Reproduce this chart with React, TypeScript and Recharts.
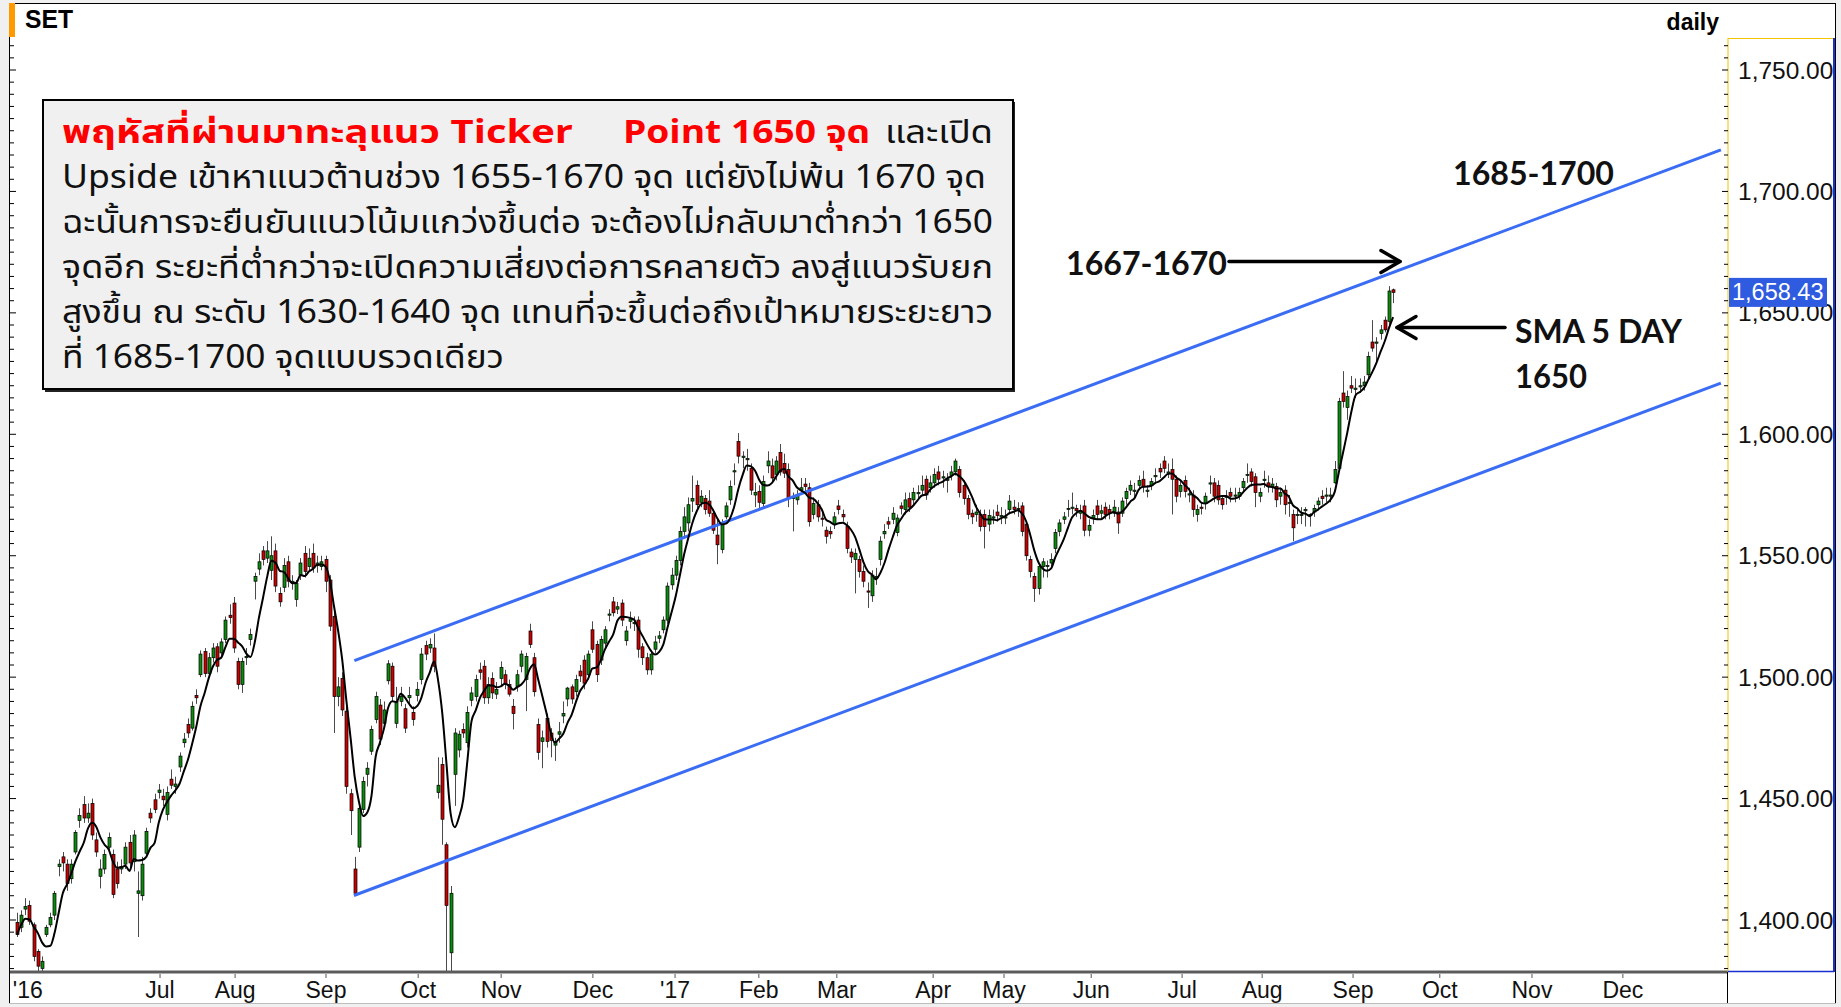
import React from "react";
import { Bar, ComposedChart, Line, ReferenceLine, XAxis, YAxis } from "recharts";

type Ohlc = [number, number, number, number]; // open, high, low, close

// SET index, daily candles (May 2016 - 15 Sep 2017)
const mayJun2016: Ohlc[] = [
  [1399, 1403, 1393, 1394], [1397, 1404, 1395, 1402], [1404.5, 1409, 1402, 1405.5], [1406, 1408, 1398, 1399.5],
  [1398, 1399, 1383, 1385], [1387, 1388, 1378, 1381], [1380, 1385, 1379, 1383], [1394, 1398, 1393, 1397],
  [1398, 1403, 1397, 1401], [1402, 1412, 1400, 1411], [1422, 1425, 1418, 1423], [1426, 1428, 1420, 1423.5],
  [1423, 1425, 1412, 1415], [1417, 1425, 1415, 1423], [1428, 1437, 1427, 1436], [1441, 1446, 1438, 1443],
  [1447.5, 1451, 1440, 1442], [1442, 1448, 1440, 1444], [1448, 1450, 1433, 1435], [1433, 1436, 1426, 1428],
  [1418, 1425, 1413, 1421], [1421, 1429, 1419, 1427], [1430, 1436, 1428, 1434], [1427, 1429, 1409, 1410.5],
  [1421, 1424, 1413, 1415], [1421, 1425, 1419, 1422], [1423, 1432, 1421, 1430], [1432, 1435, 1421, 1423.5],
  [1424, 1437, 1420, 1435], [1411, 1420, 1393, 1412], [1410, 1426, 1408, 1423], [1427.5, 1438, 1426, 1436.5],
  [1444, 1446, 1440, 1442], [1449.5, 1452, 1444, 1445.5], [1452.5, 1456, 1450, 1453.5],
];
const julAug2016: Ohlc[] = [
  [1451, 1454, 1447, 1449.5], [1443.5, 1455, 1441, 1452.5], [1458, 1462, 1454, 1455.5], [1455, 1459, 1452, 1456],
  [1463, 1469, 1461, 1467.5], [1473, 1477, 1471, 1474.5], [1480.5, 1483, 1475, 1477], [1479, 1490, 1478, 1488],
  [1492.5, 1495, 1489, 1491.5], [1501, 1511, 1500, 1509.5], [1510.5, 1512, 1500, 1501.5], [1501.5, 1510, 1500, 1508],
  [1508, 1514, 1506, 1512], [1512.5, 1514, 1502, 1504.5], [1510, 1516, 1508, 1514.5], [1515.5, 1525, 1514, 1523.5],
  [1525.5, 1530, 1522, 1524.5], [1530.5, 1533, 1510, 1512], [1506.5, 1508, 1495, 1497], [1497, 1508, 1493.5, 1506.5],
  [1508, 1512, 1505, 1508.5], [1515.5, 1520, 1513, 1517.5], [1539.5, 1543, 1532, 1541.5], [1544.5, 1551, 1542, 1547.5],
  [1552, 1554, 1546, 1548.5], [1549, 1556, 1547, 1552], [1544, 1558, 1540, 1550], [1552, 1555, 1535, 1537.5],
  [1534.5, 1537, 1529, 1531], [1537, 1549, 1535, 1546], [1547.5, 1550, 1537, 1539.5], [1539, 1542, 1536, 1539.5],
  [1532, 1540, 1529, 1538.5], [1542, 1549, 1540, 1547], [1551, 1554, 1541, 1543.5], [1545.5, 1553, 1544, 1549],
  [1551, 1555, 1543, 1545], [1546, 1550, 1543, 1547], [1545.5, 1550, 1544, 1547.5], [1548.5, 1550, 1535, 1539.5],
];
const sepOct2016: Ohlc[] = [
  [1540, 1542, 1519, 1521], [1525, 1527, 1477, 1492], [1492, 1500, 1488, 1496], [1499.5, 1502, 1484, 1486.5],
  [1486, 1488, 1452, 1455], [1452, 1454, 1435, 1445], [1421, 1426, 1410, 1411], [1430, 1448, 1428, 1446],
  [1445.5, 1459, 1444, 1457], [1460, 1465, 1455, 1462.5], [1469.5, 1480, 1468, 1478.5], [1482.5, 1494, 1481, 1492],
  [1488.5, 1491, 1472, 1474.5], [1481, 1490, 1479, 1486.5], [1498.5, 1507, 1497, 1505.5], [1504.5, 1506, 1490, 1492],
  [1481, 1496, 1479, 1490], [1490, 1496, 1488, 1492], [1487, 1489, 1477, 1479], [1491.5, 1496, 1489, 1492.5],
  [1485.5, 1488, 1480, 1482.5], [1492.5, 1498, 1490, 1495], [1499, 1512, 1497, 1509.5], [1513, 1515, 1507, 1509.5],
  [1512, 1516, 1510, 1513.5], [1512, 1518, 1502, 1504.5], [1452.5, 1467, 1450, 1455.5], [1464, 1467, 1431, 1441.5],
  [1431, 1432, 1360, 1406], [1386.5, 1414, 1360, 1411], [1460, 1479, 1447, 1477], [1470, 1478, 1467, 1476.5],
  [1478.5, 1481, 1475, 1477], [1473, 1488, 1471, 1485.5], [1490.5, 1496, 1488, 1493.5], [1492, 1501, 1490, 1499],
  [1503, 1506, 1499, 1502], [1504.5, 1507, 1489, 1491.5], [1491.5, 1500, 1489, 1497], [1499.5, 1502, 1491, 1493.5],
  [1493, 1498, 1491, 1495],
];
const novDec2016: Ohlc[] = [
  [1499.5, 1506.5, 1496, 1504], [1501, 1503, 1495, 1497], [1497, 1499, 1492, 1493], [1488, 1491, 1478.5, 1485],
  [1496, 1503, 1494, 1501], [1504.5, 1511, 1502, 1509.5], [1499, 1510, 1486, 1508.5], [1519, 1522, 1512, 1513.5],
  [1508, 1510, 1492, 1494], [1480.5, 1483, 1466, 1469], [1473.5, 1478, 1462.5, 1475], [1483, 1485, 1471, 1473.5],
  [1477, 1479, 1467, 1474], [1472, 1475, 1465.5, 1473.5], [1476.5, 1481.5, 1473, 1477.5], [1484, 1490, 1481, 1485],
  [1491, 1496, 1488, 1495.5], [1496, 1497, 1489, 1491], [1494, 1501, 1492, 1499], [1502.5, 1505, 1498, 1500.5],
  [1507, 1509, 1495, 1497.5], [1501, 1511, 1499, 1509.5], [1519.5, 1523, 1510, 1511.5], [1513.5, 1515, 1498, 1501],
  [1507, 1517, 1505, 1515.5], [1514, 1521, 1512, 1519.5], [1525.5, 1528, 1523, 1526], [1531, 1533, 1525, 1526.5],
  [1528, 1531, 1526, 1529], [1530.5, 1532, 1521, 1523.5], [1515, 1521, 1513, 1519], [1523, 1527, 1520, 1524],
  [1522, 1525, 1519, 1522.5], [1523.5, 1525, 1508, 1511.5], [1512.5, 1514, 1505, 1508], [1508, 1510, 1501, 1503],
  [1503, 1511, 1501, 1509.5], [1511.5, 1517, 1510, 1514.5], [1516, 1519, 1514, 1517], [1519.5, 1525, 1518, 1523.5],
  [1523.5, 1539, 1522, 1537.5], [1538, 1545, 1536, 1542],
];
const janFeb2017: Ohlc[] = [
  [1542, 1550, 1540, 1548], [1548, 1562, 1546, 1560], [1560, 1570, 1558, 1566], [1563.5, 1574, 1560, 1571],
  [1572.5, 1583, 1568, 1573.5], [1579, 1581, 1569, 1571], [1572, 1577, 1570, 1574.5], [1573.5, 1575, 1567, 1569],
  [1572.5, 1577, 1566, 1567.5], [1567.5, 1569, 1559, 1560.5], [1558.5, 1565, 1546.5, 1554.5], [1552.5, 1565, 1551, 1563],
  [1566, 1572, 1565, 1570.5], [1573, 1581, 1571, 1578.5], [1584.5, 1588, 1579, 1585], [1597, 1600.5, 1588, 1591],
  [1590.5, 1593, 1586, 1591], [1589.5, 1594, 1585, 1590], [1586, 1588, 1575, 1577], [1575, 1580, 1570, 1576],
  [1576.5, 1579, 1569, 1572], [1571.5, 1583, 1570, 1580.5], [1587, 1593, 1584, 1589], [1587, 1590, 1580, 1582],
  [1583.5, 1591, 1581, 1589], [1592.5, 1596, 1583, 1584.5], [1588, 1592, 1582, 1584], [1585.5, 1588, 1570, 1573.5],
  [1573.5, 1576, 1560, 1574], [1573, 1577, 1571, 1575], [1577, 1582, 1575, 1578], [1579.5, 1582, 1576, 1578.5],
  [1578, 1580, 1562, 1564], [1567, 1574, 1565, 1571.5], [1571, 1573, 1564, 1566], [1565.5, 1568, 1562, 1565],
  [1560.5, 1562, 1555, 1558], [1560, 1562, 1557, 1559], [1563, 1568, 1561, 1566],
];
const marApr2017: Ohlc[] = [
  [1570.5, 1573, 1567, 1569], [1567, 1569, 1564, 1566], [1562, 1564, 1551, 1553], [1551.5, 1553, 1547, 1549.5],
  [1548.5, 1553, 1534.5, 1551], [1548.5, 1550, 1541, 1543.5], [1543.5, 1546, 1537, 1539.5], [1535.5, 1539, 1528.5, 1535],
  [1533.5, 1544, 1531, 1542], [1541, 1545, 1538, 1541.5], [1548.5, 1558, 1546, 1556], [1559, 1563, 1557, 1560],
  [1564, 1566, 1561, 1563], [1565, 1570, 1563, 1567.5], [1559.5, 1567, 1558, 1565.5], [1570.5, 1572, 1567, 1569.5],
  [1569, 1576, 1567, 1573], [1573.5, 1576, 1568, 1570], [1573, 1578, 1571, 1576], [1575.5, 1579, 1573, 1576],
  [1577, 1583, 1575, 1579], [1581.5, 1583, 1573, 1575], [1578, 1583, 1576, 1580], [1580, 1586, 1578, 1583.5],
  [1584.5, 1587, 1579, 1581.5], [1582, 1585, 1578, 1582.5], [1581, 1584, 1576, 1581.5], [1583, 1587, 1581, 1584.5],
  [1584.5, 1590, 1583, 1589], [1585.5, 1587, 1574, 1576], [1579, 1581, 1571, 1573.5], [1573.5, 1575, 1565, 1567],
  [1567.5, 1569, 1563, 1566], [1567, 1571, 1564, 1568], [1567, 1569, 1560, 1562], [1567, 1569, 1553, 1562],
  [1563, 1569, 1560, 1566.5], [1565.5, 1569, 1563, 1566], [1568, 1571, 1564, 1566.5], [1566, 1570, 1563, 1566.5],
];
const mayJun2017: Ohlc[] = [
  [1565.5, 1569, 1563, 1566], [1569, 1575, 1567, 1572.5], [1570, 1573, 1567, 1569], [1569, 1572, 1566, 1569.5],
  [1570.5, 1572, 1558, 1560], [1563, 1564, 1548, 1550], [1548.5, 1550, 1541, 1543.5], [1541.5, 1543, 1531, 1536.5],
  [1536.5, 1547, 1534, 1545.5], [1545.5, 1549, 1541, 1547.5], [1545.5, 1548, 1541, 1546], [1547, 1551, 1545, 1548.5],
  [1553, 1561, 1551, 1559.5], [1560, 1565, 1558, 1563.5], [1565, 1568, 1563, 1566], [1569, 1573, 1566, 1569.5],
  [1569.5, 1576, 1567, 1570], [1569.5, 1571, 1566, 1568.5], [1567.5, 1571, 1565, 1568.5], [1570.5, 1573, 1558, 1560.5],
  [1560.5, 1565, 1558, 1562.5], [1565.5, 1569, 1563, 1566.5], [1570.5, 1573, 1565, 1567], [1567.5, 1571, 1565, 1568.5],
  [1570, 1572, 1565, 1567], [1569, 1571, 1565, 1567.5], [1567.5, 1573, 1566, 1570], [1568, 1570, 1559, 1563.5],
  [1567.5, 1574, 1566, 1572.5], [1573.5, 1578, 1571, 1576.5], [1577, 1581, 1575, 1579], [1576.5, 1580, 1574, 1577],
  [1579, 1583, 1577, 1581], [1581.5, 1585, 1576, 1578.5], [1576.5, 1579, 1574, 1577], [1579, 1582, 1577, 1580.5],
  [1582.5, 1586, 1580, 1583], [1586, 1588, 1582, 1584.5], [1589, 1591, 1584, 1586], [1584, 1588, 1582, 1584.5],
  [1585.5, 1590, 1567, 1581.5], [1581.5, 1583, 1572, 1574.5], [1576.5, 1581, 1574, 1579],
];
const julSep2017: Ohlc[] = [
  [1581, 1583, 1574, 1576.5], [1575, 1578, 1572, 1575.5], [1575, 1577, 1566, 1569], [1567, 1571, 1564, 1569],
  [1570, 1572, 1567, 1569.5], [1571.5, 1576, 1569, 1574.5], [1579.5, 1583, 1575.5, 1580], [1580, 1582, 1572, 1574.5],
  [1579, 1581, 1571, 1573], [1573.5, 1575, 1569, 1571], [1574, 1577, 1571, 1574.5], [1576, 1578, 1572, 1574.5],
  [1574.5, 1578, 1572, 1575], [1574.5, 1578, 1573, 1576], [1578, 1582, 1576, 1580.5], [1583, 1588, 1580, 1583.5],
  [1584.5, 1586, 1578.5, 1580.5], [1582.5, 1584, 1570, 1576], [1574.5, 1578, 1572, 1576], [1581, 1585, 1578, 1581.5],
  [1580, 1583, 1576, 1578.5], [1578.5, 1582, 1576, 1579.5], [1578.5, 1580, 1570, 1573], [1574.5, 1578, 1571, 1576],
  [1577, 1579, 1567, 1571], [1571.5, 1575, 1566, 1572], [1567, 1569, 1556, 1561.5], [1566.5, 1569, 1563, 1567],
  [1566.5, 1570, 1563, 1567], [1568.5, 1570, 1562, 1569], [1566.5, 1567.5, 1562, 1567], [1568, 1571, 1566, 1569.5],
  [1571, 1574, 1569, 1572.5], [1574.5, 1577, 1571, 1573.5], [1574.5, 1578, 1572, 1575], [1574.5, 1578, 1572, 1575],
  [1580, 1589, 1579.5, 1585.5], [1586, 1615, 1585, 1613.5], [1617, 1626, 1611, 1613.5], [1611, 1618, 1606, 1615.5],
  [1620, 1624, 1617, 1619], [1618.5, 1623, 1615, 1619], [1619.5, 1623, 1617, 1620], [1620, 1624, 1618, 1621.5],
  [1624.5, 1634, 1623, 1632], [1638, 1647, 1634, 1635.5], [1637.5, 1640, 1630, 1638], [1641.5, 1645, 1639, 1643],
  [1647, 1648.5, 1642, 1643], [1646.5, 1661, 1645, 1659], [1659.5, 1660, 1654, 1658.43],
];

const lastClose = 1658.43;
const smaPeriod = 5;

// month ticks, in candle-index units
const monthTicks = [2.6, 34.3, 52.3, 74.1, 96.2, 116.1, 138.1, 157.8, 177.9, 196.6, 219.7, 236.7, 257.6, 279.4, 298.6, 320.4, 341.2, 363.3, 385.1];
const monthLabels = ["'16", "Jul", "Aug", "Sep", "Oct", "Nov", "Dec", "'17", "Feb", "Mar", "Apr", "May", "Jun", "Jul", "Aug", "Sep", "Oct", "Nov", "Dec"];
const majorPrices = [1400, 1450, 1500, 1550, 1600, 1650, 1700, 1750];

// trend channel drawn on the chart: [index, price]
const channelUpper = [[80.9, 1506.8], [408.6, 1717.1]];
const channelLower = [[80.8, 1410.1], [408.6, 1621.1]];

const candles = [...mayJun2016, ...julAug2016, ...sepOct2016, ...novDec2016, ...janFeb2017, ...marApr2017, ...mayJun2017, ...julSep2017];
const closes = candles.map((c) => c[3]);
const data = candles.map(([open, high, low, close], i) => {
  const win = closes.slice(Math.max(0, i - smaPeriod + 1), i + 1);
  return { i, open, high, low, close, range: [low, high], sma: win.reduce((a, b) => a + b, 0) / win.length };
});

const priceTicks: number[] = [];
for (let v = 1380; v <= 1760; v += 5) priceTicks.push(v);
priceTicks.push(lastClose);

const W = 1841;
const H = 1007;
const LEFT = 10;
const ARIAL = "'Liberation Sans', Arial, sans-serif";
const THAI = "'Noto Sans Thai', 'Leelawadee UI', Tahoma, 'Noto Sans', 'DejaVu Sans', sans-serif";
const BOLD = "Lato, 'Noto Sans', sans-serif";

function Candle(props: any) {
  const { x, y, width, height, payload } = props;
  if (x == null || !payload) return null;
  const top = Math.min(y, y + height);
  const h = Math.abs(height);
  const k = h / (payload.high - payload.low);
  const cx = Math.round(x + width / 2) + 0.5;
  const bTop = top + (payload.high - Math.max(payload.open, payload.close)) * k;
  const bBot = top + (payload.high - Math.min(payload.open, payload.close)) * k;
  const up = payload.close >= payload.open;
  return (
    <g>
      <line x1={cx} x2={cx} y1={top} y2={top + h} stroke="#4a4a4a" strokeWidth={1} />
      <rect x={cx - 1.5} y={bTop} width={3} height={Math.max(bBot - bTop, 1)} fill={up ? "#0b8a0b" : "#c80000"} stroke="#000" strokeWidth={0.7} />
    </g>
  );
}

function PriceTick(props: any) {
  const { x, y, payload } = props;
  const v = payload.value;
  if (v === lastClose) {
    return (
      <g>
        <rect x={x + 1} y={y - 14.5} width={98} height={29} fill="#2f5be0" />
        <text x={x + 4} y={y + 8} fill="#fff" fontSize={23.5} fontFamily={ARIAL}>
          {v.toLocaleString("en-US", { minimumFractionDigits: 2 })}
        </text>
      </g>
    );
  }
  const major = majorPrices.includes(v);
  return (
    <g>
      <line x1={x - (major ? 6 : 4)} x2={x} y1={y} y2={y} stroke="#000" />
      <line x1={LEFT} x2={LEFT + (major ? 6 : 4)} y1={y} y2={y} stroke="#000" />
      {major && (
        <text x={x + 10} y={y + 8.5} fill="#111" fontSize={24.5} fontFamily={ARIAL}>
          {v.toLocaleString("en-US", { minimumFractionDigits: 2 })}
        </text>
      )}
    </g>
  );
}

function MonthTick(props: any) {
  const { x, y, payload } = props;
  const idx = monthTicks.indexOf(payload.value);
  return (
    <g>
      {idx > 0 && <line x1={x} x2={x} y1={y + 2} y2={y + 6} stroke="#555" />}
      <text x={x} y={y + 26} textAnchor="middle" fill="#111" fontSize={23} fontFamily={ARIAL}>
        {monthLabels[idx]}
      </text>
    </g>
  );
}

function Arrow({ x1, x2, y }: { x1: number; x2: number; y: number }) {
  const d = x2 > x1 ? -1 : 1;
  return (
    <g stroke="#000" strokeWidth={3.5} fill="none" strokeLinecap="round" strokeLinejoin="round">
      <line x1={x1} x2={x2} y1={y} y2={y} />
      <polyline points={`${x2 + d * 19},${y - 11} ${x2},${y} ${x2 + d * 19},${y + 11}`} />
    </g>
  );
}

export default function App() {
  return (
    <div style={{ position: "fixed", left: 0, top: 0, width: W, height: H, background: "#f0f0f0", overflow: "hidden" }}>
      <svg width={W} height={H} style={{ position: "absolute", left: 0, top: 0 }}>
        <rect x={9.5} y={3.5} width={1826} height={1000} fill="#fff" stroke="#000" />
      </svg>
      <div style={{ position: "absolute", left: 0, top: 0 }}>
        <ComposedChart width={W} height={H} data={data} margin={{ top: 38, right: 6, bottom: 0, left: LEFT }}>
          <XAxis
            dataKey="i"
            type="number"
            domain={[-1.68, 410.31]}
            allowDataOverflow
            ticks={monthTicks}
            interval={0}
            tick={<MonthTick />}
            tickLine={false}
            tickSize={0}
            tickMargin={0}
            height={35}
            axisLine={{ stroke: "#5c5c5c", strokeWidth: 3 }}
          />
          <YAxis
            orientation="right"
            domain={[1378.59, 1763.18]}
            allowDataOverflow
            ticks={priceTicks}
            interval={0}
            tick={<PriceTick />}
            tickLine={false}
            tickSize={0}
            tickMargin={0}
            width={107}
            axisLine={{ stroke: "#f2c200", strokeWidth: 1 }}
          />
          <ReferenceLine segment={channelUpper.map(([x, y]) => ({ x, y }))} stroke="#3a6cf4" strokeWidth={3} />
          <ReferenceLine segment={channelLower.map(([x, y]) => ({ x, y }))} stroke="#3a6cf4" strokeWidth={3} />
          <Bar dataKey="range" barSize={4} shape={<Candle />} isAnimationActive={false} />
          <Line dataKey="sma" type="monotone" stroke="#000" strokeWidth={2} dot={false} isAnimationActive={false} />
        </ComposedChart>
      </div>
      <svg width={W} height={H} style={{ position: "absolute", left: 0, top: 0, pointerEvents: "none" }}>
        <rect x={9} y={3} width={6} height={34} fill="#ff9900" />
        <text x={25} y={28} fontSize={25} fontWeight="bold" fontFamily={ARIAL} textLength={48} lengthAdjust="spacingAndGlyphs">SET</text>
        <text x={1719} y={30} fontSize={23} fontWeight="bold" fontFamily={ARIAL} textAnchor="end">daily</text>
        <line x1={1728} y1={38.5} x2={1834} y2={38.5} stroke="#f2c200" />
        <line x1={1834} y1={38} x2={1834} y2={972} stroke="#1a2fd0" strokeWidth={2} />
        <line x1={1728} y1={971.5} x2={1834} y2={971.5} stroke="#1a2fd0" strokeWidth={1.5} />
        <line x1={1727.5} y1={972} x2={1727.5} y2={1004} stroke="#000" />
        <line x1={9} y1={1003.5} x2={1836} y2={1003.5} stroke="#bdbdbd" />

        <rect x={45} y={102} width={970} height={290} fill="#222" />
        <rect x={43} y={100} width={970} height={289} fill="#f0f0f0" stroke="#000" strokeWidth={2} />
        <g fontFamily={THAI} fontSize={32}>
          <text x={62} y={143} fill="#ff0000" fontWeight="bold" textLength={511} lengthAdjust="spacingAndGlyphs">พฤหัสที่ผ่านมาทะลุแนว Ticker</text>
          <text x={623} y={143} fill="#ff0000" fontWeight="bold" textLength={247} lengthAdjust="spacingAndGlyphs">Point 1650 จุด</text>
          <text x={885} y={143} fill="#111" textLength={108} lengthAdjust="spacingAndGlyphs">และเปิด</text>
          <text x={62} y={188} fill="#111" textLength={924} lengthAdjust="spacingAndGlyphs">Upside เข้าหาแนวต้านช่วง 1655-1670 จุด แต่ยังไม่พ้น 1670 จุด</text>
          <text x={62} y={233} fill="#111" textLength={931} lengthAdjust="spacingAndGlyphs">ฉะนั้นการจะยืนยันแนวโน้มแกว่งขึ้นต่อ จะต้องไม่กลับมาต่ำกว่า 1650</text>
          <text x={62} y={278} fill="#111" textLength={931} lengthAdjust="spacingAndGlyphs">จุดอีก ระยะที่ต่ำกว่าจะเปิดความเสี่ยงต่อการคลายตัว ลงสู่แนวรับยก</text>
          <text x={62} y={323} fill="#111" textLength={931} lengthAdjust="spacingAndGlyphs">สูงขึ้น ณ ระดับ 1630-1640 จุด แทนที่จะขึ้นต่อถึงเป้าหมายระยะยาว</text>
          <text x={62} y={368} fill="#111" textLength={442} lengthAdjust="spacingAndGlyphs">ที่ 1685-1700 จุดแบบรวดเดียว</text>
        </g>

        <g fontFamily={BOLD} fontWeight="bold" fontSize={32} fill="#111">
          <text x={1453} y={185} textLength={161} lengthAdjust="spacingAndGlyphs">1685-1700</text>
          <text x={1066} y={275} textLength={161} lengthAdjust="spacingAndGlyphs">1667-1670</text>
          <text x={1515} y={343} textLength={167} lengthAdjust="spacingAndGlyphs">SMA 5 DAY</text>
          <text x={1515} y={388} textLength={72} lengthAdjust="spacingAndGlyphs">1650</text>
        </g>
        <Arrow x1={1229} x2={1400} y={261.5} />
        <Arrow x1={1505} x2={1397} y={327.5} />
      </svg>
    </div>
  );
}
